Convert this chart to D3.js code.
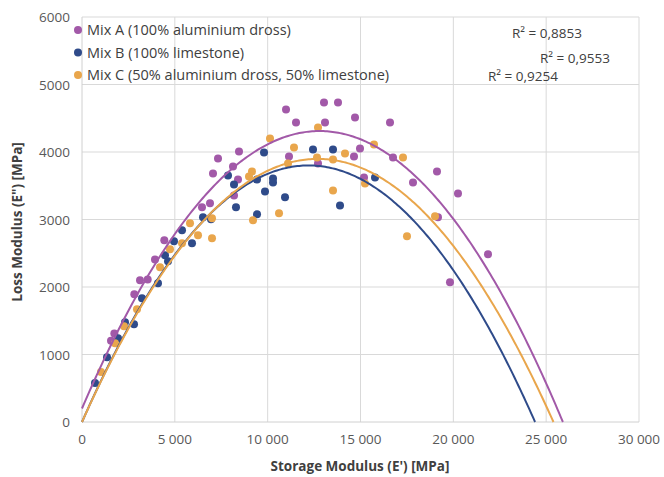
<!DOCTYPE html>
<html><head><meta charset="utf-8">
<script src="https://cdn.jsdelivr.net/npm/d3@7"></script>
<style>body{margin:0;background:#fff;} text{font-family:"Open Sans",sans-serif;}</style>
</head><body><svg id="c" width="664" height="477"></svg>
<script>
const seriesNames = ["Mix A (100% aluminium dross)", "Mix B (100% limestone)", "Mix C (50% aluminium dross, 50% limestone)"];
const seriesColors = ["#a259a8", "#2f4b8a", "#e9a64c"];
const r2Labels = ["R² = 0,8853", "R² = 0,9553", "R² = 0,9254"];
const xTicks = [0, 5000, 10000, 15000, 20000, 25000, 30000];
const yTicks = [0, 1000, 2000, 3000, 4000, 5000, 6000];

// Mix A points [E', E'']
const mixA = [
 [1562,1203],[1741,1312],[2818,1893],[3124,2100],[3537,2110],[3932,2406],[4433,2692],
 [6463,3180],[6894,3239],[7056,3683],[7325,3905],[8133,3786],[8187,3357],[8402,3594],[8456,4008],
 [10988,4629],[11149,3934],[11526,4437],[12711,3831],[13034,4733],[13088,4437],[13788,4733],
 [14650,3934],[14704,4511],[14973,4052],[15189,3624],[16589,4437],[16751,3919],[17828,3550],
 [19120,3712],[19174,3032],[20251,3387],[21867,2485],[19820,2071]
];
// Mix B points
const mixB = [
 [700,577],[1347,961],[1939,1242],[2316,1479],[2801,1449],[3232,1834],[4093,2056],[4470,2470],
 [4632,2381],[4955,2677],[5386,2840],[5925,2647],[6517,3032],[6948,3002],[7864,3653],[8187,3520],
 [8294,3180],[9426,3594],[9803,3993],[10288,3609],[10288,3550],[9856,3416],[10934,3328],[9426,3076],
 [12442,4038],[13519,4038],[13896,3209],[15781,3624]
];
// Mix C points
const mixC = [
 [1023,740],[1777,1168],[2262,1420],[2962,1671],[4201,2292],[4740,2559],[5386,2647],[5817,2943],
 [6248,2766],[7002,2721],[7002,3017],[8995,3638],[9156,3712],[9210,2988],[10611,3091],[10126,4200],
 [11095,3831],[11418,4067],[12657,3919],[12711,4363],[13519,3890],[13519,3431],[14165,3978],
 [15727,4112],[15242,3535],[17289,3919],[17504,2751],[19013,3047]
];
// Polynomial (order 2) trendline coefficients [a, b, c] for y = a x^2 + b x + c
const trendA = [-2.510e-5, 0.6424, 200];
const trendB = [-2.553e-5, 0.6230, 0];
const trendC = [-2.418e-5, 0.6140, 0];

const svg = d3.select("#c");
const m = {l:82, r:639, t:17, b:422};
const x = d3.scaleLinear().domain([0,30000]).range([m.l, m.r]);
const y = d3.scaleLinear().domain([0,6000]).range([m.b, m.t]);

// gridlines
svg.append("g").selectAll("line").data(xTicks.slice(1)).join("line")
  .attr("x1",d=>x(d)).attr("x2",d=>x(d)).attr("y1",m.t).attr("y2",m.b)
  .attr("stroke","#d9d9d9").attr("stroke-width",1);
svg.append("g").selectAll("line").data(yTicks.slice(1)).join("line")
  .attr("x1",m.l).attr("x2",m.r).attr("y1",d=>y(d)).attr("y2",d=>y(d))
  .attr("stroke","#d9d9d9").attr("stroke-width",1);
// axes lines
svg.append("line").attr("x1",m.l).attr("x2",m.r).attr("y1",m.b).attr("y2",m.b).attr("stroke","#d0d0d0");
svg.append("line").attr("x1",m.l).attr("x2",m.l).attr("y1",m.t).attr("y2",m.b).attr("stroke","#d0d0d0");

const fmtX = d => d3.format(",")(d).replace(/,/g, " ");
svg.append("g").selectAll("text").data(xTicks).join("text")
  .attr("x",d=>x(d)).attr("y",m.b+22).attr("text-anchor","middle")
  .attr("font-size",13.5).attr("fill","#595959").text(fmtX);
svg.append("g").selectAll("text").data(yTicks).join("text")
  .attr("x",m.l-12).attr("y",d=>y(d)+5).attr("text-anchor","end")
  .attr("font-size",13.5).attr("fill","#595959").text(d=>d);

svg.append("text").attr("x",360).attr("y",471).attr("text-anchor","middle")
  .attr("font-size",13.5).attr("font-weight","bold").attr("fill","#404040").text("Storage Modulus (E') [MPa]");
svg.append("text").attr("transform","translate(22,222) rotate(-90)").attr("text-anchor","middle")
  .attr("font-size",13.5).attr("font-weight","bold").attr("fill","#404040").text("Loss Modulus (E\") [MPa]");

const allData = [mixA, mixB, mixC];
const trends = [trendA, trendB, trendC];
const drawOrder = [0,1,2];

// points
drawOrder.forEach(i=>{
  svg.append("g").selectAll("circle").data(allData[i]).join("circle")
    .attr("cx",d=>x(d[0])).attr("cy",d=>y(d[1])).attr("r",4)
    .attr("fill",seriesColors[i]);
});
// trendlines
const line = d3.line().x(d=>x(d[0])).y(d=>y(d[1])).curve(d3.curveLinear);
drawOrder.forEach(i=>{
  const [a,b,c] = trends[i];
  const root = (-b - Math.sqrt(b*b-4*a*c))/(2*a);
  const xs = d3.range(0, root, 100).concat([root]);
  const pts = xs.map(v=>[v, a*v*v+b*v+c]);
  svg.append("path").datum(pts).attr("d",line).attr("fill","none")
    .attr("stroke",seriesColors[i]).attr("stroke-width",2);
});

// legend
const lg = svg.append("g");
seriesNames.forEach((n,i)=>{
  lg.append("circle").attr("cx",78).attr("cy",30+i*22.5).attr("r",4).attr("fill",seriesColors[i]);
  lg.append("text").attr("x",87).attr("y",35+i*22.5).attr("font-size",14.5).attr("fill","#404040").text(n);
});
// R2 labels
const r2Pos = [[512,38],[540,63],[488,81]];
r2Labels.forEach((t,i)=>{
  svg.append("text").attr("x",r2Pos[i][0]).attr("y",r2Pos[i][1]).attr("font-size",13.5).attr("fill","#404040").text(t);
});
</script></body></html>
